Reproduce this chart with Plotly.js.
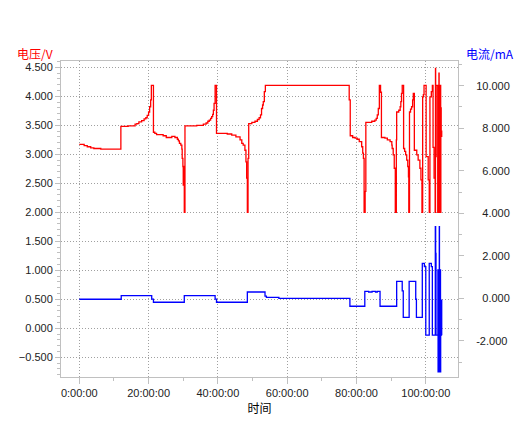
<!DOCTYPE html>
<html>
<head>
<meta charset="utf-8">
<script src="https://cdn.plot.ly/plotly-3.0.1.min.js"></script>
<style>
  html, body { margin: 0; padding: 0; background: #fff; }
  #chart { width: 520px; height: 429px; }
</style>
</head>
<body>
<div id="chart"></div>
<script>
// time in hours, voltage in V (step trace)
var voltTime = [0, 1.4, 2.3, 3.3, 4.2, 6.2, 12.0, 14.1, 16.1, 16.6, 17.2, 18.0, 18.7, 19.2, 19.6, 20.0, 20.3, 20.6, 20.8,
    21.4, 21.8, 22.3, 24.2, 25.1, 26.7, 27.6, 28.3, 28.6, 28.9, 29.3, 29.6, 29.7, 29.9, 30.0, 30.15, 30.3, 30.5,
    33.9, 35.8, 36.6, 37.1, 37.5, 37.9, 38.2, 38.5, 38.7, 38.9, 39.2,
    39.6, 42.7, 44.0, 45.2, 46.4, 46.9, 47.3, 47.8, 48.1, 48.3, 48.5, 48.7, 48.9,
    49.8, 50.7, 51.4, 51.9, 52.3, 52.6, 52.9, 53.1, 53.4, 53.7,
    77.9, 78.2, 78.9, 79.6, 80.2, 80.8, 81.5, 81.8, 82.0, 82.2, 82.5, 82.7,
    84.4, 85.3, 85.7, 86.0, 86.3, 86.6, 86.95,
    87.2, 88.2, 88.9, 89.7, 90.2, 90.3, 90.6, 90.9, 91.2, 91.5, 91.6,
    92.2, 92.6, 92.8, 93.0, 93.2, 93.6, 93.9, 94.2, 94.5, 94.8, 95.0, 95.1, 95.3,
    95.6, 95.9, 96.2, 96.4, 96.7, 97.4, 97.8, 98.3, 98.6, 98.9, 99.1, 99.3, 99.5,
    100.1, 100.7, 101.0, 101.2, 101.6, 101.9, 102.1, 102.4, 102.7, 102.8, 102.85, 103.0,
    103.45, 103.5, 103.6, 103.65, 103.75, 103.8, 103.85, 103.9, 104.0, 104.05, 104.15, 104.2, 104.3, 104.35, 104.45, 104.6];
var voltage = [3.17, 3.15, 3.13, 3.11, 3.10, 3.09, 3.48, 3.49, 3.52, 3.53, 3.56, 3.58, 3.61, 3.63, 3.67, 3.73, 3.82, 3.94, 4.19,
    3.38, 3.36, 3.34, 3.32, 3.29, 3.31, 3.29, 3.26, 3.23, 3.19, 3.16, 3.09, 2.93, 2.79, 2.47, 2.79, 2.0, 3.49,
    3.50, 3.52, 3.54, 3.57, 3.59, 3.62, 3.65, 3.69, 3.76, 3.88, 4.19,
    3.36, 3.35, 3.33, 3.30, 3.25, 3.19, 3.16, 3.07, 2.87, 2.59, 2.0, 2.93, 3.53,
    3.55, 3.57, 3.60, 3.63, 3.68, 3.79, 3.85, 3.91, 4.08, 4.19,
    3.94, 3.32, 3.29, 3.28, 3.26, 3.22, 3.13, 3.02, 2.93, 2.0, 2.36, 3.55,
    3.57, 3.59, 3.62, 3.68, 3.79, 4.19, 4.07,
    3.29, 3.28, 3.25, 3.22, 3.16, 3.10, 2.99, 2.76, 2.0, 3.25, 3.73,
    3.76, 3.82, 3.91, 4.05, 4.19, 3.10, 3.05, 2.99, 2.90, 2.79, 2.61, 2.0, 3.73,
    3.78, 3.82, 3.94, 4.05, 3.07, 2.99, 2.90, 2.76, 2.56, 2.0, 3.99, 4.03, 4.19,
    2.96, 2.56, 2.0, 3.99, 4.08, 4.19, 3.12, 2.59, 2.0, 4.48, 2.96, 4.19,
    2.0, 4.19, 2.3, 4.19, 2.0, 4.40, 2.0, 4.19, 2.0, 4.19, 2.5, 4.19, 2.0, 3.8, 3.40, 3.30];

// time in hours, current in mA (step trace)
var currTime = [0, 12.1, 20.9, 21.4, 30.3, 39.2, 39.6, 48.5, 53.6, 54.0, 57.6, 78.1, 82.4, 83.5, 84.5, 85.5, 86.0, 86.8,
    91.6, 93.2, 93.5, 95.2, 97.1, 97.3, 99.0, 99.6, 100.0, 101.0, 101.6, 101.9,
    102.75, 102.85, 102.95, 103.5, 103.55, 103.6, 103.65, 103.75, 103.8, 103.9, 103.95, 104.05, 104.1, 104.2, 104.25,
    104.3, 104.4, 104.5, 104.6];
var current = [-0.04, 0.13, -0.03, -0.18, 0.13, -0.03, -0.18, 0.30, 0.11, 0.05, 0.0, -0.37, 0.33, 0.30, 0.33, 0.30, 0.33, -0.37,
    0.80, 0.35, -0.89, 0.80, -0.04, -0.89, 1.65, 1.49, -1.73, 1.65, 1.49, -1.73,
    3.37, 2.12, -1.73, 1.34, -3.45, 1.34, -3.45, 1.34, -3.45, 3.37, -3.45, 1.34, -3.45, 1.34, -3.45,
    -0.08, -1.73, -0.08, -1.73];

var timeTicks = [0, 20, 40, 60, 80, 100];
var timeLabels = ['0:00:00', '20:00:00', '40:00:00', '60:00:00', '80:00:00', '100:00:00'];
var currTicks = [-2, 0, 2, 4, 6, 8, 10];
var currLabels = ['-2.000', '\u20070.000', '\u20072.000', '\u20074.000', '\u20076.000', '\u20078.000', '10.000'];

var axisGray = '#c0c0c0';
var gridGray = '#a0a0a0';
var tickFont = {family: 'Liberation Sans, Arial, sans-serif', size: 11, color: '#222'};

var voltTrace = {
    x: voltTime,
    y: voltage,
    type: 'scatter',
    mode: 'lines',
    name: '电压',
    line: {color: '#ff0000', width: 1.3, shape: 'hv'},
    yaxis: 'y'
};
var currTrace = {
    x: currTime,
    y: current,
    type: 'scatter',
    mode: 'lines',
    name: '电流',
    line: {color: '#0000ff', width: 1.3, shape: 'hv'},
    yaxis: 'y2'
};

var layout = {
    width: 520,
    height: 429,
    margin: {l: 61, r: 62, t: 61, b: 52},
    paper_bgcolor: '#fff',
    plot_bgcolor: '#fff',
    showlegend: false,
    xaxis: {
        range: [-5.28, 109.3],
        tickmode: 'array',
        tickvals: timeTicks,
        ticktext: timeLabels,
        ticks: 'outside',
        ticklen: 6,
        tickcolor: axisGray,
        tickfont: tickFont,
        showline: true,
        linecolor: axisGray,
        mirror: true,
        showgrid: true,
        gridcolor: gridGray,
        griddash: '1px,2px',
        zeroline: false,
        minor: {tickmode: 'linear', tick0: 0, dtick: 10, ticks: 'outside', ticklen: 3, tickcolor: axisGray, showgrid: false},
        title: {text: '时间', font: {family: 'Noto Sans CJK SC', size: 12, color: '#000'}, standoff: 6}
    },
    yaxis: {
        range: [-0.84, 4.609],
        tickmode: 'linear',
        tick0: 0,
        dtick: 0.5,
        tickformat: '.3f',
        ticks: 'outside',
        ticklen: 5,
        tickcolor: axisGray,
        tickfont: tickFont,
        showline: true,
        linecolor: axisGray,
        showgrid: true,
        gridcolor: gridGray,
        griddash: '1px,2px',
        zeroline: false,
        minor: {tickmode: 'linear', tick0: 0, dtick: 0.1, ticks: 'outside', ticklen: 3, tickcolor: axisGray, showgrid: false}
    },
    yaxis2: {
        range: [-3.695, 11.16],
        overlaying: 'y',
        side: 'right',
        tickmode: 'array',
        tickvals: currTicks,
        ticktext: currLabels,
        ticks: 'outside',
        ticklen: 5,
        tickcolor: axisGray,
        tickfont: tickFont,
        ticklabelstandoff: 10,
        showline: true,
        linecolor: axisGray,
        showgrid: false,
        zeroline: false,
        minor: {tickmode: 'linear', tick0: 0, dtick: 1, ticks: 'outside', ticklen: 3, tickcolor: axisGray, showgrid: false}
    },
    annotations: [
        {text: '电压/V', xref: 'paper', yref: 'paper', x: -0.016, y: 1.025, xanchor: 'right', yanchor: 'middle',
         showarrow: false, font: {family: 'Noto Sans CJK SC', size: 12, color: '#ff0000'}},
        {text: '电流/mA', xref: 'paper', yref: 'paper', x: 1.0143, y: 1.025, xanchor: 'left', yanchor: 'middle',
         showarrow: false, font: {family: 'Noto Sans CJK SC', size: 12, color: '#0000ff'}}
    ]
};

Plotly.newPlot('chart', [voltTrace, currTrace], layout, {displayModeBar: false, staticPlot: true});
</script>
</body>
</html>
